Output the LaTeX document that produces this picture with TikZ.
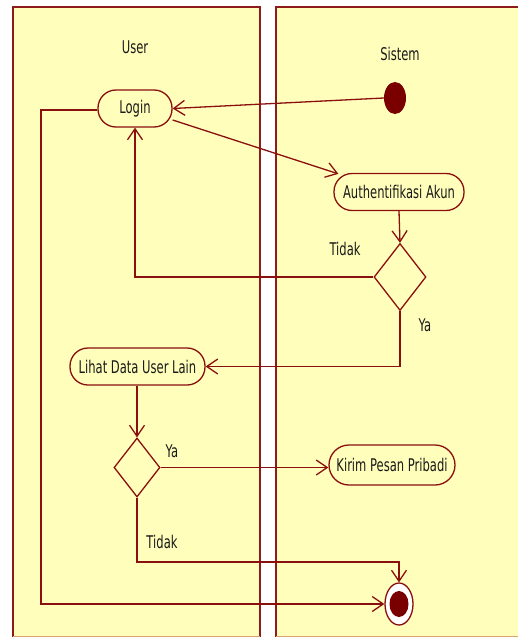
\documentclass[tikz,border=0pt]{standalone}
\usepackage{fontspec}
\newfontfamily\lblfont[FakeStretch=0.66]{DejaVu Sans}
\usetikzlibrary{arrows.meta,shapes.geometric}
\definecolor{lanefill}{HTML}{FFFFBB}
\definecolor{laneedge}{HTML}{8E1B1B}
\definecolor{lnc}{HTML}{8A0F0F}
\definecolor{dotc}{HTML}{7A0000}
\definecolor{edgetan}{HTML}{D9A26E}
\definecolor{txtc}{HTML}{1A1A1A}
\begin{document}
\begin{tikzpicture}[x=1pt,y=-1pt,
  lbl/.style={font=\lblfont\fontsize{17.5}{20}\selectfont, text=txtc, inner sep=0pt},
  act/.style={lbl, draw=lnc, line width=1.3pt, fill=lanefill, rectangle, rounded corners=18pt, minimum height=37pt},
  dec/.style={draw=lnc, line width=1.3pt, fill=lanefill, diamond, inner sep=0pt},
  flow/.style={draw=lnc, line width=1.3pt, -{Straight Barb[length=11pt,width=15pt]}},
  plain/.style={draw=lnc, line width=1.3pt}]
\useasboundingbox (0,0) rectangle (518,637);
% lanes
\fill[lanefill] (13,7) rectangle (260,637);
\fill[lanefill] (276,7) rectangle (517.5,637);
\draw[laneedge, line width=1.3pt] (13,637) -- (13,7) -- (260,7) -- (260,637);
\draw[laneedge, line width=1.3pt] (276,637) -- (276,7) -- (517.5,7);
\draw[edgetan, line width=1.2pt] (13,636.4) -- (260,636.4);
\draw[edgetan, line width=1.2pt] (276,636.4) -- (517.5,636.4);
\node[lbl] (user) at (135,47) {User};
\node[lbl] (sistem) at (400,54) {Sistem};
% nodes
\node[ellipse, fill=dotc, minimum width=22pt, minimum height=32pt, inner sep=0pt] (init) at (395,98) {};
\node[act, minimum width=74pt] (login) at (135,108.5) {Login};
\node[act, minimum width=130pt] (auth) at (399,192) {Authentifikasi Akun};
\node[dec, minimum width=52pt, minimum height=67pt] (d1) at (400,277) {};
\node[act, minimum width=135pt] (lihat) at (137.5,366.5) {Lihat Data User Lain};
\node[dec, minimum width=46pt, minimum height=59pt] (d2) at (137,467.5) {};
\node[act, minimum width=126pt, minimum height=40pt, rounded corners=20pt] (kirim) at (392,465) {Kirim Pesan Pribadi};
\node[ellipse, draw=lnc, line width=1.3pt, fill=white, minimum width=28pt, minimum height=42pt, inner sep=0pt] (end) at (399,604) {};
\fill[dotc] (end.center) ellipse [x radius=9.5pt, y radius=13pt];
\coordinate (k1) at (41,604);
\coordinate (k2) at (137,562);
% labels
\node[lbl] (t1) at (345,249) {Tidak};
\node[lbl] (y1) at (425,325) {Ya};
\node[lbl] (y2) at (172,451) {Ya};
\node[lbl] (t2) at (162,542) {Tidak};
% connectors
\draw[flow] (init.west) -- (login.east);
\draw[flow] ([yshift=-11.5pt]login.east) -- ([xshift=5pt,yshift=-1pt]auth.north west);
\draw[flow] (auth.south) -- (d1.north);
\draw[flow] (d1.west) -| (login.south);
\draw[flow] (d1.south) |- (lihat.east);
\draw[flow] (lihat.south -| d2.north) -- (d2.north);
\draw[flow] (d2.east) -- (d2.east -| kirim.west);
\draw[flow] (d2.south) -- (k2) -| (end.north);
\draw[flow] ([yshift=-1.5pt]login.west) -| (k1) -- (end.west);
\end{tikzpicture}
\end{document}
